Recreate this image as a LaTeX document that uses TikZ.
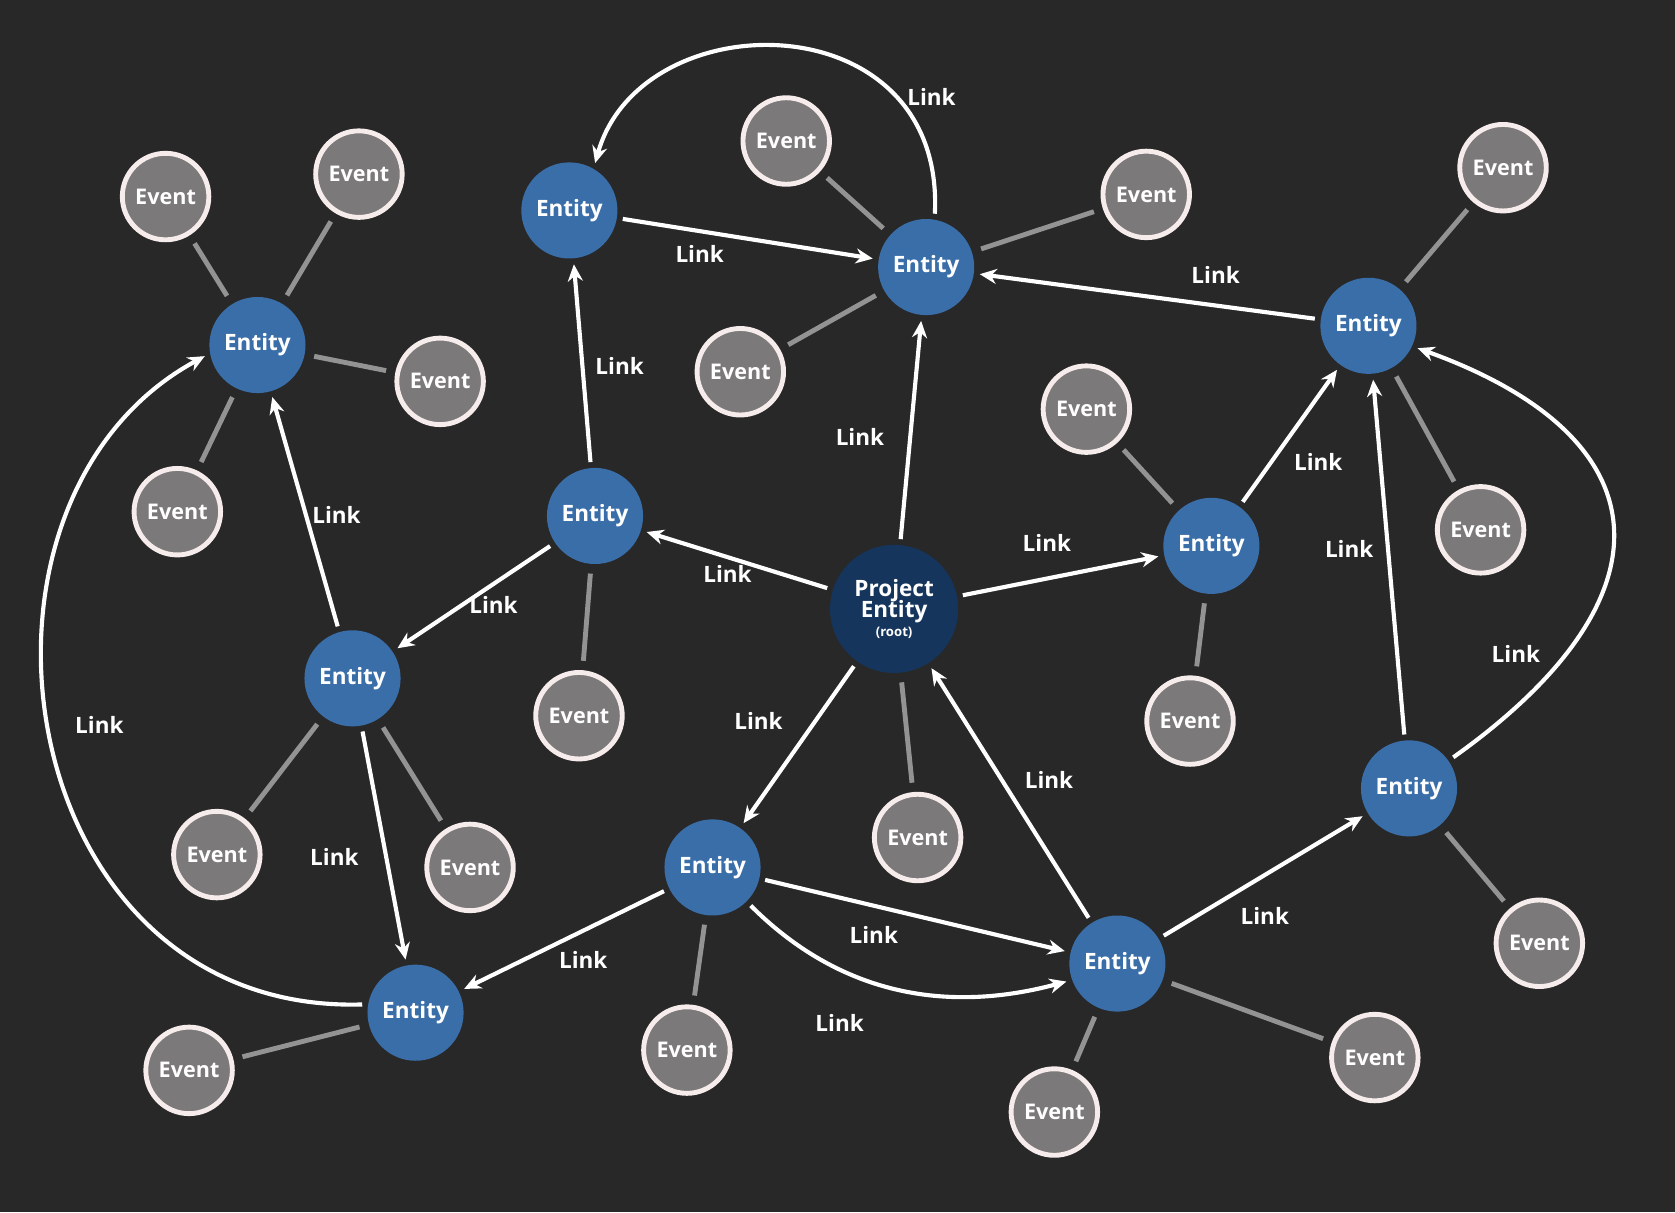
\documentclass[tikz,border=0pt]{standalone}
\usepackage{fontspec}
\setmainfont{Open Sans}
\usetikzlibrary{arrows.meta,backgrounds}
\definecolor{bgdark}{HTML}{282828}
\definecolor{entblue}{HTML}{3A6EA9}
\definecolor{rootblue}{HTML}{15355C}
\definecolor{evgray}{HTML}{7B7979}
\definecolor{evring}{HTML}{F6ECEC}
\begin{document}
\begin{tikzpicture}[
    x=0.02cm, y=-0.02cm,
    entity/.style={circle, fill=entblue, text=white, font=\bfseries\fontsize{12}{14}\selectfont, minimum size=1.8cm, inner sep=0pt},
    root/.style={circle, fill=rootblue, text=white, font=\bfseries\fontsize{12}{13}\selectfont, align=center, minimum size=2.4cm, inner sep=0pt},
    event/.style={circle, fill=evgray, draw=evring, line width=2.6pt, text=white, font=\bfseries\fontsize{11.5}{13}\selectfont, minimum size=1.62cm, inner sep=0pt},
    lbl/.style={text=white, font=\bfseries\fontsize{12}{14}\selectfont},
    link/.style={white, line width=2.2pt, -{Stealth[length=9pt,width=8pt]}, shorten >=3pt, shorten <=3pt},
    tie/.style={gray!85, line width=2.6pt, shorten >=5pt, shorten <=5pt}
]
    \useasboundingbox (0,0) rectangle (1568,1135);
    % entities
    \node [root] (root) at (837,570) {Project\\[-2pt]Entity\\[-3pt]{\fontsize{7}{8}\selectfont(root)}};
    \node [entity] (e1) at (533,197) {Entity};
    \node [entity] (e2) at (867,250) {Entity};
    \node [entity] (e3) at (1281,305) {Entity};
    \node [entity] (e4) at (241,323) {Entity};
    \node [entity] (e5) at (557,483) {Entity};
    \node [entity] (e6) at (1134,511) {Entity};
    \node [entity] (e7) at (330,635) {Entity};
    \node [entity] (e8) at (1319,738) {Entity};
    \node [entity] (e9) at (667,812) {Entity};
    \node [entity] (e10) at (1046,902) {Entity};
    \node [entity] (e11) at (389,948) {Entity};

    % events
    \foreach \n/\x/\y in {a/155/184, b/336/163, c/412/357, d/166/479, f/736/132, g/1073/182,
        h/693/348, i/1407/157, j/1386/496, k/1017/383, m/1114/675, n/542/670, o/203/800,
        p/440/812, q/859/784, r/1441/883, s/643/983, t/987/1041, u/1287/990, v/177/1002}
        \node [event] (ev\n) at (\x,\y) {Event};

    \begin{scope}[on background layer]
        \fill [bgdark] (0,0) rectangle (1568,1135);
        \foreach \e/\v in {e4/a, e4/b, e4/c, e4/d, e2/f, e2/g, e2/h, e3/i, e3/j, e6/k, e6/m,
            e5/n, e7/o, e7/p, root/q, e8/r, e9/s, e10/t, e10/u, e11/v}
            \draw [tie] (\e) -- (ev\v);
    \end{scope}

    % links
    \draw [link] (root) -- (e5);
    \draw [link] (root) -- (e2);
    \draw [link] (root) -- (e6);
    \draw [link] (root) -- (e9);
    \draw [link] (e10) -- (root);
    \draw [link] (e5) -- (e1);
    \draw [link] (e5) -- (e7);
    \draw [link] (e1) -- (e2);
    \draw [link] (e3) -- (e2);
    \draw [link] (e2.80) .. controls (885,0) and (600,0) .. (e1.60);
    \draw [link] (e6) -- (e3);
    \draw [link] (e8) -- (e3);
    \draw [link] (e8.35) .. controls (1570,560) and (1560,410) .. (e3.-25);
    \draw [link] (e7) -- (e4);
    \draw [link] (e7) -- (e11);
    \draw [link] (e11.170) .. controls (10,950) and (-60,470) .. (e4.190);
    \draw [link] (e9) -- (e11);
    \draw [link] (e9) -- (e10);
    \draw [link] (e9.-45) to [out=-45, in=195] (e10.200);
    \draw [link] (e10) -- (e8);

    % link labels
    \node [lbl] (l1) at (681,537) {Link};
    \node [lbl] (l2) at (805,409) {Link};
    \node [lbl] (l3) at (980,508) {Link};
    \node [lbl] (l4) at (710,675) {Link};
    \node [lbl] (l5) at (982,730) {Link};
    \node [lbl] (l6) at (580,343) {Link};
    \node [lbl] (l7) at (462,566) {Link};
    \node [lbl] (l8) at (655,238) {Link};
    \node [lbl] (l9) at (1138,257) {Link};
    \node [lbl] (l10) at (872,91) {Link};
    \node [lbl] (l11) at (1234,432) {Link};
    \node [lbl] (l12) at (1263,514) {Link};
    \node [lbl] (l13) at (1419,612) {Link};
    \node [lbl] (l14) at (315,482) {Link};
    \node [lbl] (l15) at (313,802) {Link};
    \node [lbl] (l16) at (93,679) {Link};
    \node [lbl] (l17) at (546,899) {Link};
    \node [lbl] (l18) at (818,875) {Link};
    \node [lbl] (l19) at (786,958) {Link};
    \node [lbl] (l20) at (1184,857) {Link};
\end{tikzpicture}
\end{document}
